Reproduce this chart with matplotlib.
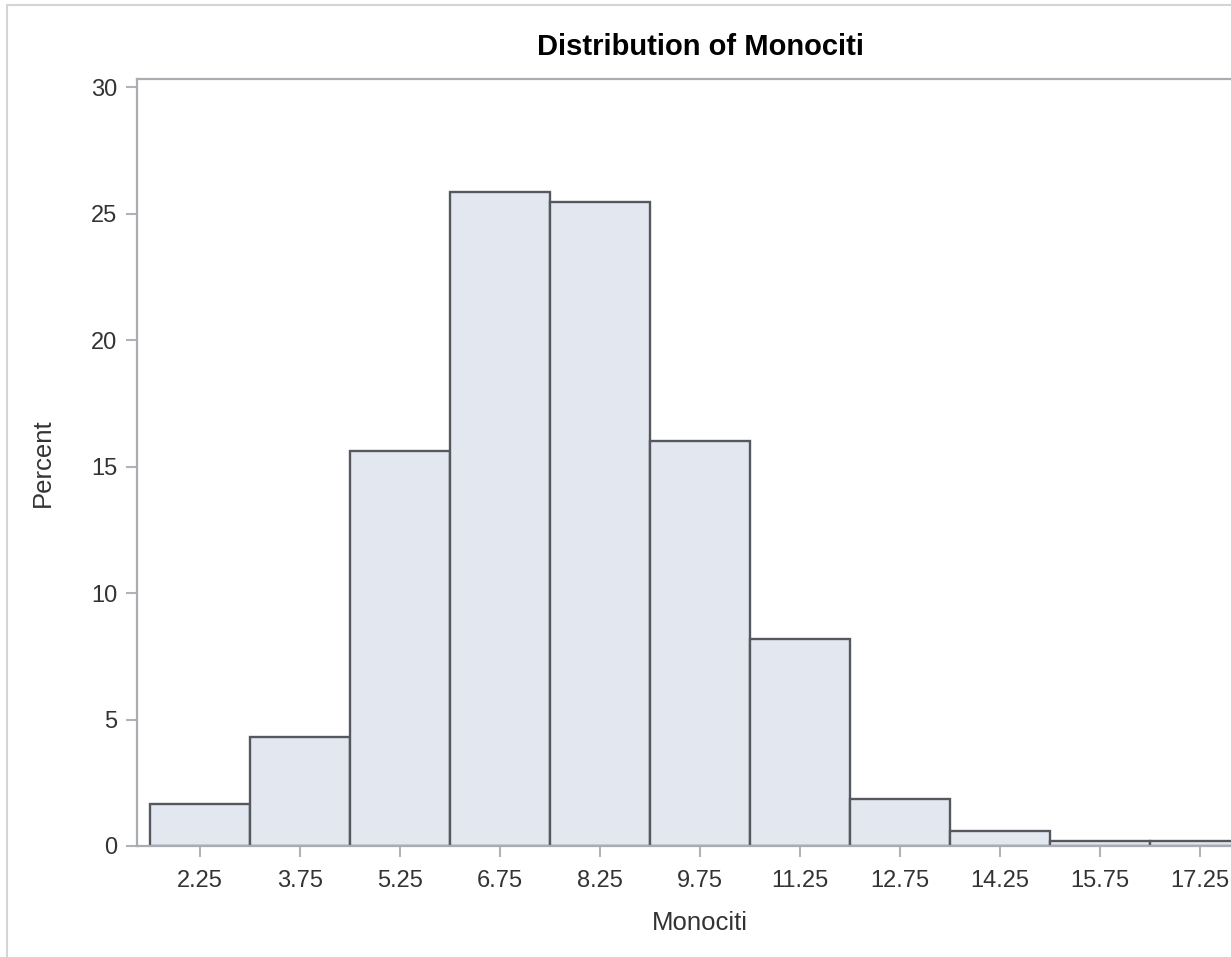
import matplotlib.pyplot as plt
from matplotlib.patches import Rectangle

plt.rcParams['font.family'] = ['Liberation Sans', 'DejaVu Sans']

# histogram bins (midpoints) and percent per bin
midpoints = [2.25, 3.75, 5.25, 6.75, 8.25, 9.75, 11.25, 12.75, 14.25, 15.75, 17.25]
percent = [1.66, 4.3, 15.6, 25.85, 25.45, 16.0, 8.18, 1.86, 0.59, 0.2, 0.2]
bin_width = 1.5
yticks = [0, 5, 10, 15, 20, 25, 30]

W, H = 1231, 957
fig = plt.figure(figsize=(W / 100, H / 100), dpi=100)

# light frame of the graph area (continues past the right/bottom edge)
fig.patches.append(Rectangle((7 / W, -0.1), 1.2, (H - 5) / H + 0.1,
                             transform=fig.transFigure, fill=False,
                             edgecolor='#d4d4d4', linewidth=1.5))

# plot area extends past the right edge of the picture
left, right, top, bottom = 137, 1263, 79, 846
ax = fig.add_axes([left / W, (H - bottom) / H, (right - left) / W, (bottom - top) / H])

ax.bar(midpoints, percent, width=bin_width, color='#e3e7f0',
       edgecolor='#55595f', linewidth=1.7, zorder=2)

ax.set_xlim(1.305, 18.195)
ax.set_ylim(0, 30.32)
ax.set_xticks(midpoints)
ax.set_xticklabels([f'{m:.2f}' for m in midpoints])
ax.set_yticks(yticks)

for s in ax.spines.values():
    s.set_color('#a9adb1')
    s.set_linewidth(1.6)

ax.tick_params(axis='both', colors='#b0b4b8', labelcolor='#333333',
               labelsize=17, length=8, width=1.5)
ax.tick_params(axis='x', pad=9)
ax.tick_params(axis='y', pad=6)

ax.set_xlabel('Monociti', fontsize=18.5, color='#333333', labelpad=14)
ax.set_ylabel('Percent', fontsize=18.5, color='#333333', labelpad=26)
ax.set_title('Distribution of Monociti', fontsize=21, fontweight='bold',
             color='black', pad=17)

fig.savefig('out.png', dpi=100)
